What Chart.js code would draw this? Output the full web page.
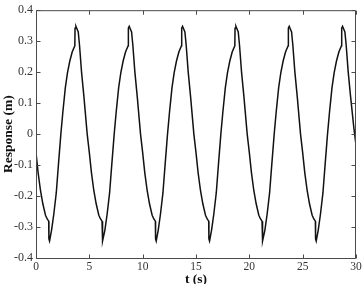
<!DOCTYPE html>
<html>
<head>
<meta charset="utf-8">
<script src="https://cdn.jsdelivr.net/npm/chart.js@4"></script>
<style>
  html, body { margin: 0; padding: 0; background: #fff; }
</style>
</head>
<body>
<canvas id="responseChart" width="364" height="284"></canvas>
<script>
// time (s), one line per cycle
const timeS = [
  0, 0.2, 0.42, 0.64, 0.89, 1.05, 1.19, 1.21, 1.27, 1.46, 1.67, 1.9, 2.1, 2.33, 2.52, 2.75, 2.95, 3.17, 3.4, 3.64, 3.66, 3.74, 3.96, 4.08, 4.27, 4.49, 4.8,
  5, 5.2, 5.42, 5.64, 5.89, 6.05, 6.19, 6.21, 6.27, 6.46, 6.67, 6.9, 7.1, 7.33, 7.52, 7.75, 7.95, 8.17, 8.4, 8.64, 8.66, 8.74, 8.96, 9.08, 9.27, 9.49, 9.8,
  10, 10.2, 10.42, 10.64, 10.89, 11.05, 11.19, 11.21, 11.27, 11.46, 11.67, 11.9, 12.1, 12.33, 12.52, 12.75, 12.95, 13.17, 13.4, 13.64, 13.66, 13.74, 13.96, 14.08, 14.27, 14.49, 14.8,
  15, 15.2, 15.42, 15.64, 15.89, 16.05, 16.19, 16.21, 16.27, 16.46, 16.67, 16.9, 17.1, 17.33, 17.52, 17.75, 17.95, 18.17, 18.4, 18.64, 18.66, 18.74, 18.96, 19.08, 19.27, 19.49, 19.8,
  20, 20.2, 20.42, 20.64, 20.89, 21.05, 21.19, 21.21, 21.27, 21.46, 21.67, 21.9, 22.1, 22.33, 22.52, 22.75, 22.95, 23.17, 23.4, 23.64, 23.66, 23.74, 23.96, 24.08, 24.27, 24.49, 24.8,
  25, 25.2, 25.42, 25.64, 25.89, 26.05, 26.19, 26.21, 26.27, 26.46, 26.67, 26.9, 27.1, 27.33, 27.52, 27.75, 27.95, 28.17, 28.4, 28.64, 28.66, 28.74, 28.96, 29.08, 29.27, 29.49, 29.8,
  30
];

// response (m)
const responseM = [
  -0.06, -0.125, -0.182, -0.225, -0.262, -0.274, -0.281, -0.338, -0.345, -0.31, -0.258, -0.19, -0.1, 0, 0.072, 0.15, 0.198, 0.236, 0.266, 0.285, 0.342, 0.348, 0.33, 0.287, 0.2, 0.122, 0,
  -0.06, -0.125, -0.182, -0.225, -0.262, -0.274, -0.281, -0.338, -0.345, -0.31, -0.258, -0.19, -0.1, 0, 0.072, 0.15, 0.198, 0.236, 0.266, 0.285, 0.342, 0.348, 0.33, 0.287, 0.2, 0.122, 0,
  -0.06, -0.125, -0.182, -0.225, -0.262, -0.274, -0.281, -0.338, -0.345, -0.31, -0.258, -0.19, -0.1, 0, 0.072, 0.15, 0.198, 0.236, 0.266, 0.285, 0.342, 0.348, 0.33, 0.287, 0.2, 0.122, 0,
  -0.06, -0.125, -0.182, -0.225, -0.262, -0.274, -0.281, -0.338, -0.345, -0.31, -0.258, -0.19, -0.1, 0, 0.072, 0.15, 0.198, 0.236, 0.266, 0.285, 0.342, 0.348, 0.33, 0.287, 0.2, 0.122, 0,
  -0.06, -0.125, -0.182, -0.225, -0.262, -0.274, -0.281, -0.338, -0.345, -0.31, -0.258, -0.19, -0.1, 0, 0.072, 0.15, 0.198, 0.236, 0.266, 0.285, 0.342, 0.348, 0.33, 0.287, 0.2, 0.122, 0,
  -0.06, -0.125, -0.182, -0.225, -0.262, -0.274, -0.281, -0.338, -0.345, -0.31, -0.258, -0.19, -0.1, 0, 0.072, 0.15, 0.198, 0.236, 0.266, 0.285, 0.342, 0.348, 0.33, 0.287, 0.2, 0.122, 0.02,
  -0.035
];

const xTicks = [0, 5, 10, 15, 20, 25, 30];
const yTicks = [-0.4, -0.3, -0.2, -0.1, 0, 0.1, 0.2, 0.3, 0.4];
const yTickLabels = ["-0.4", "-0.3", "-0.2", "-0.1", "0", "0.1", "0.2", "0.3", "0.4"];

const xTitle = "t (s)";
const yTitle = "Response (m)";

let points = [];
for (let i = 0; i < timeS.length; i++) points.push({x: timeS[i], y: responseM[i]});

// matlab style box with inward ticks on all four sides
const boxTicks = {
  id: "boxTicks",
  afterDraw(chart) {
    const {ctx, chartArea: a} = chart;
    const xs = chart.scales.x, ys = chart.scales.y;
    const L = a.left + 0.5, R = a.right - 0.5, T = a.top + 0.5, B = a.bottom + 0.5;
    ctx.save();
    ctx.strokeStyle = "#4a4a4a";
    ctx.lineWidth = 1;
    ctx.beginPath();
    ctx.rect(L, T, R - L, B - T);
    for (let v of xTicks) {
      let px = Math.round(xs.getPixelForValue(v)) + 0.5;
      ctx.moveTo(px, B); ctx.lineTo(px, B - 4);
      ctx.moveTo(px, T); ctx.lineTo(px, T + 4);
    }
    for (let v of yTicks) {
      let py = Math.round(ys.getPixelForValue(v)) + 0.5;
      ctx.moveTo(L, py); ctx.lineTo(L + 4, py);
      ctx.moveTo(R, py); ctx.lineTo(R - 4, py);
    }
    ctx.stroke();
    ctx.restore();
  }
};

const serif = "'Liberation Serif', 'Times New Roman', serif";

new Chart(document.getElementById("responseChart"), {
  type: "line",
  data: {
    datasets: [{
      data: points,
      borderColor: "#111",
      borderWidth: 1.5,
      pointRadius: 0,
      tension: 0,
      fill: false
    }]
  },
  options: {
    responsive: false,
    animation: false,
    layout: {padding: {left: 0, right: 8, top: 8, bottom: 0}},
    plugins: {legend: {display: false}, tooltip: {enabled: false}},
    scales: {
      x: {
        type: "linear",
        min: 0,
        max: 30,
        afterBuildTicks: (s) => { s.ticks = xTicks.map((v) => ({value: v})); },
        afterFit: (s) => { s.height = 26; },
        grid: {display: false, drawTicks: false},
        border: {display: false},
        ticks: {
          padding: 2,
          maxRotation: 0,
          color: "#333",
          font: {family: serif, size: 11.5}
        },
        title: {
          display: true,
          text: xTitle,
          color: "#111",
          padding: {top: 0, bottom: -2.5},
          font: {family: serif, size: 13.5, weight: "bold", lineHeight: 1}
        }
      },
      y: {
        type: "linear",
        min: -0.4,
        max: 0.4,
        afterBuildTicks: (s) => { s.ticks = yTicks.map((v) => ({value: v})); },
        afterFit: (s) => { s.width = 36; },
        grid: {display: false, drawTicks: false},
        border: {display: false},
        ticks: {
          padding: 3,
          color: "#333",
          font: {family: serif, size: 12},
          callback: (v) => {
            let i = yTicks.findIndex((t) => Math.abs(t - v) < 1e-6);
            return i >= 0 ? yTickLabels[i] : "";
          }
        },
        title: {
          display: true,
          text: yTitle,
          color: "#111",
          padding: {top: 1.5, bottom: 0},
          font: {family: serif, size: 13.5, weight: "bold", lineHeight: 1}
        }
      }
    }
  },
  plugins: [boxTicks]
});
</script>
</body>
</html>
